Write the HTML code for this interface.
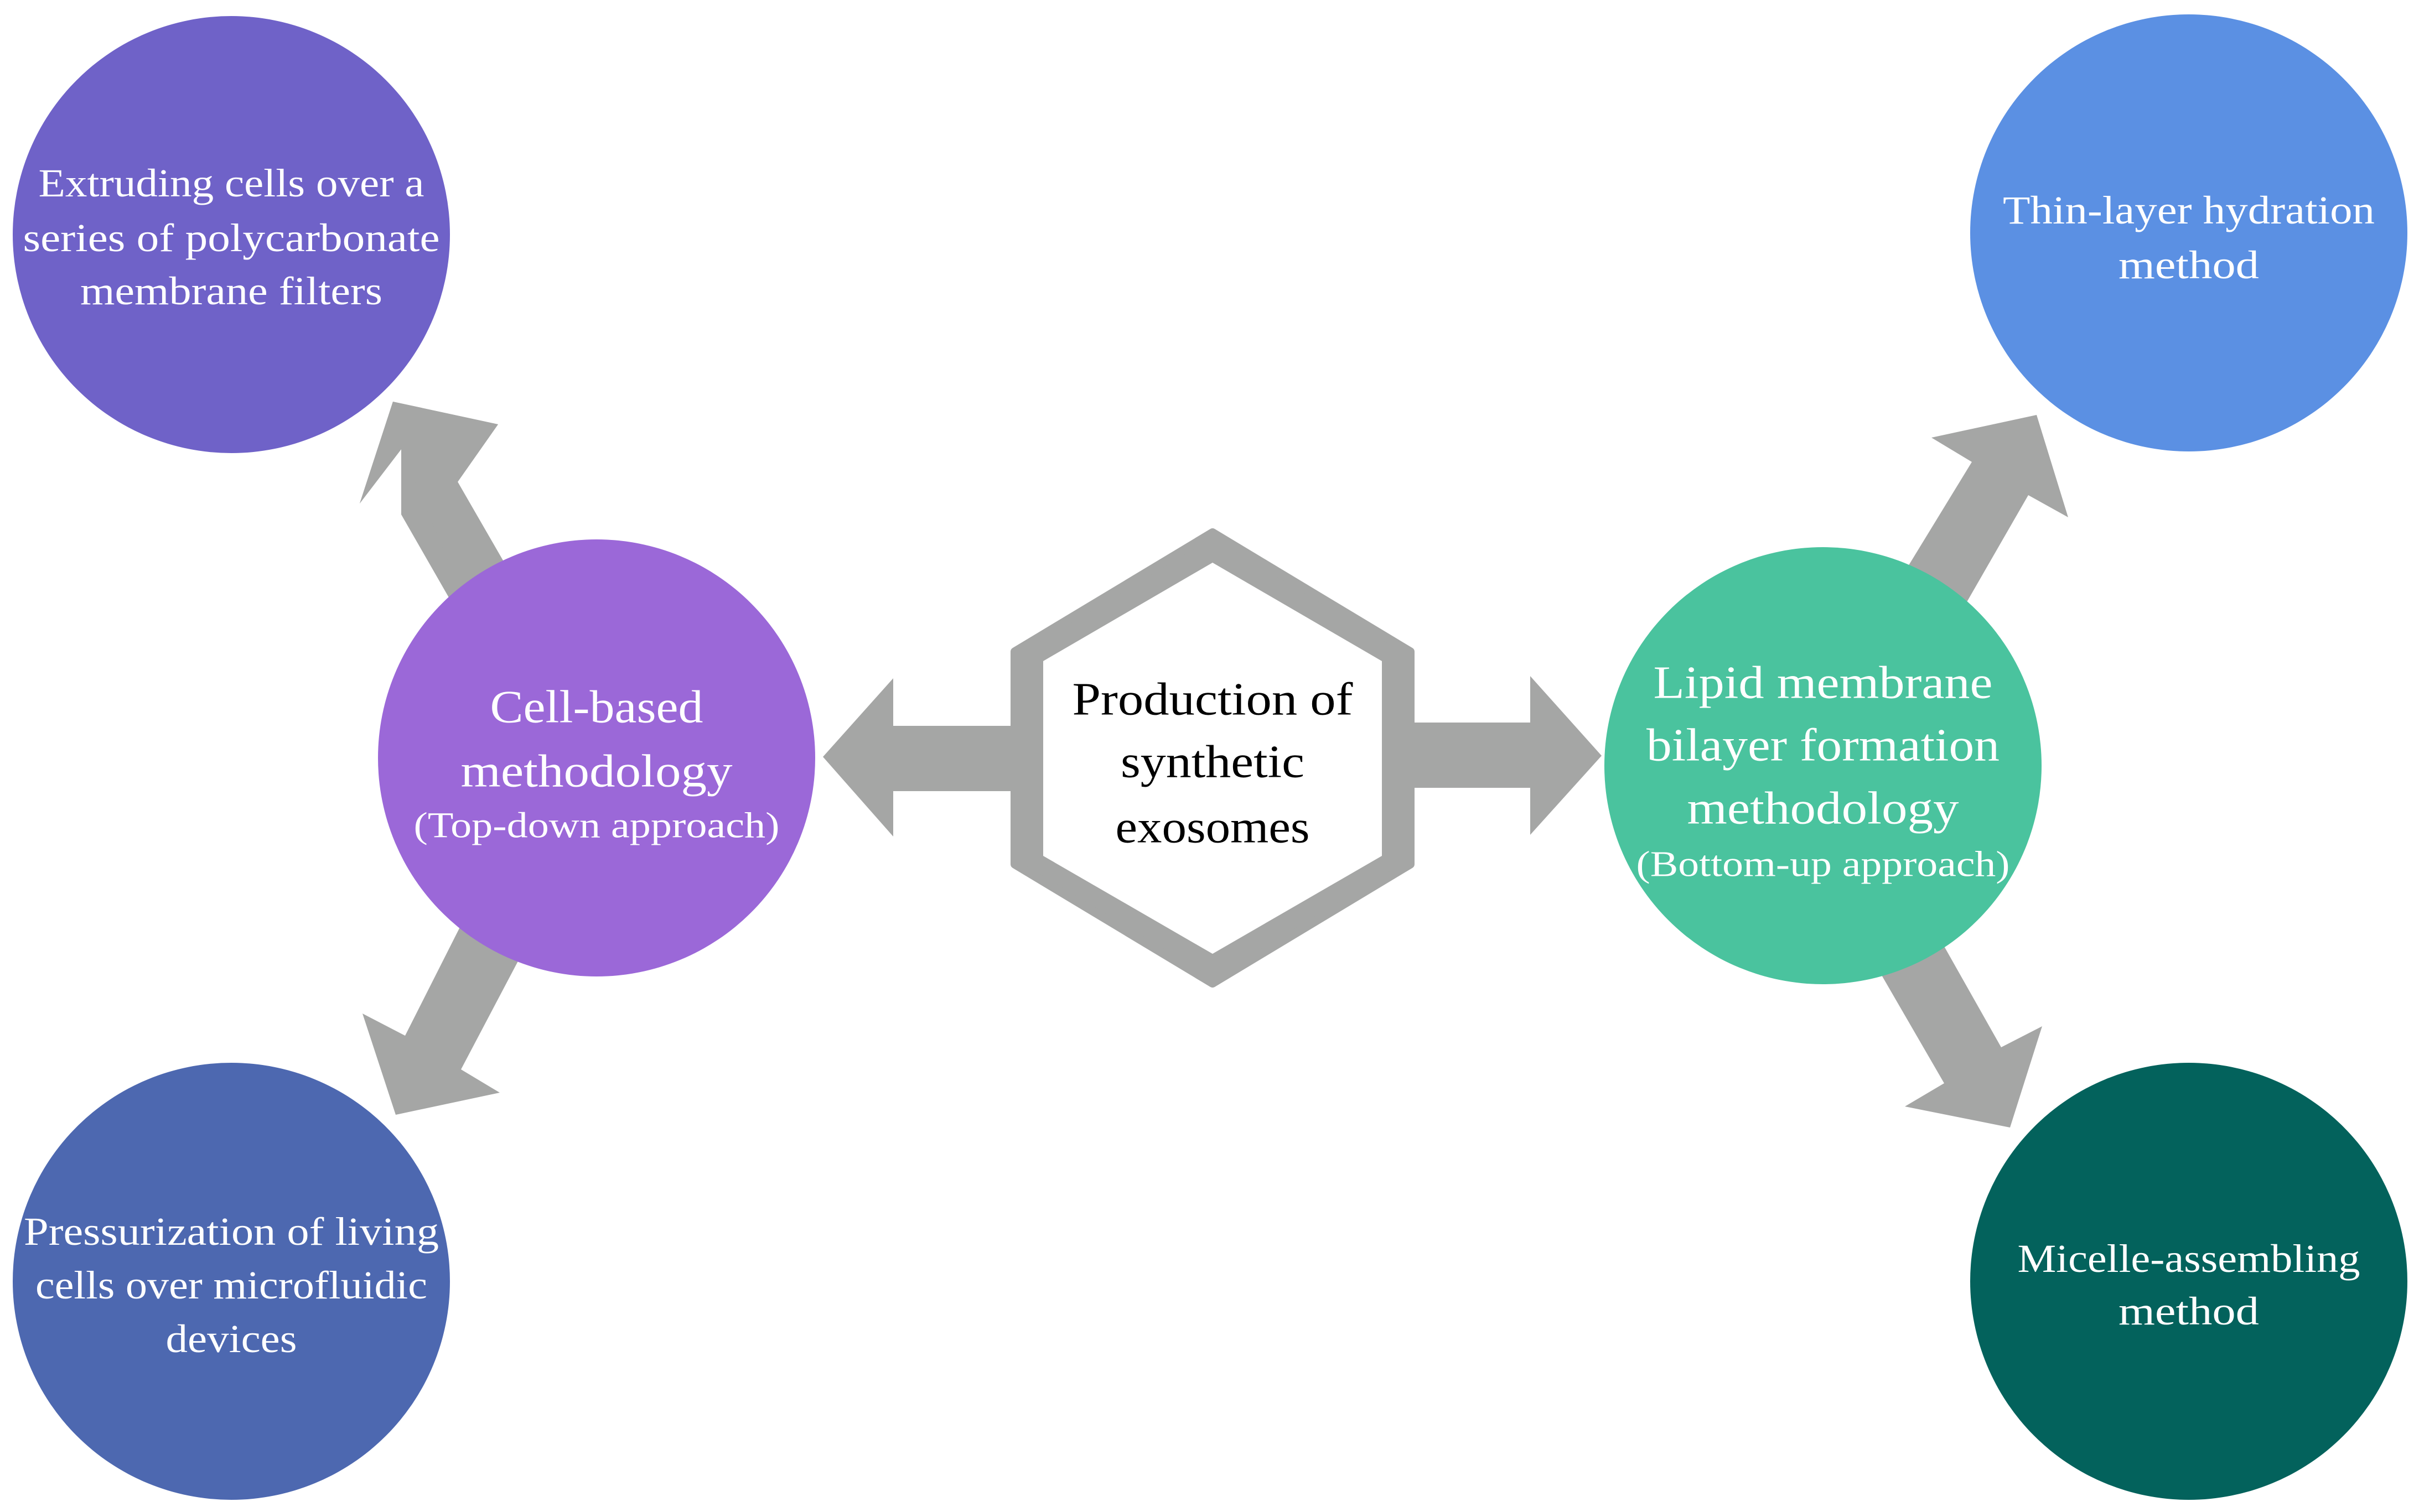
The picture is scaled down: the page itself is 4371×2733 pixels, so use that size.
<!DOCTYPE html>
<html><head><meta charset="utf-8"><style>
html,body{margin:0;padding:0;background:#fff}
svg{display:block}
text{font-family:"Liberation Serif",serif;text-anchor:middle;dominant-baseline:central}
</style></head><body>
<svg width="4371" height="2733" viewBox="0 0 4371 2733" xmlns="http://www.w3.org/2000/svg">
<rect width="4371" height="2733" fill="#fff"/>
<g fill="#a5a6a5">
<!-- horizontal arrows -->
<polygon points="1487,1368 1614,1226 1614,1312 1900,1312 1900,1430 1614,1430 1614,1512"/>
<polygon points="2894,1366 2765,1222 2765,1306 2480,1306 2480,1424 2765,1424 2765,1509"/>
<!-- diagonal arrows -->
<polygon points="710,726 900,767 827,871 1026,1218 924,1277 725,930 725,812 650,910" />
<polygon points="710,726 900,767 827,871 1040,1240 930,1300 725,812 650,910"/>
<polygon points="715,2015 903,1975 833,1933 1040,1540 930,1480 732,1872 655,1832"/>
<polygon points="3680,750 3737,935 3665,895 3455,1260 3340,1200 3563,835 3490,791"/>
<polygon points="3632,2038 3690,1855 3616,1893 3411,1530 3300,1590 3513,1958 3442,2000"/>
</g>
<!-- hexagon -->
<polygon points="2191,963 2548,1178 2548,1562 2191,1777 1834,1562 1834,1178" fill="#a5a6a5" stroke="#a5a6a5" stroke-width="16" stroke-linejoin="round"/>
<polygon points="2191,1017 2497,1195 2497,1547 2191,1724 1885,1547 1885,1195" fill="#fff"/>
<!-- circles -->
<circle cx="418" cy="424" r="395" fill="#6f62c8"/>
<circle cx="418" cy="2316" r="395" fill="#4d68b0"/>
<circle cx="1078" cy="1370" r="395" fill="#9b68d8"/>
<circle cx="3294" cy="1384" r="395" fill="#4ac39e"/>
<circle cx="3955" cy="421" r="395" fill="#5b90e3"/>
<circle cx="3955" cy="2316" r="395" fill="#03625c"/>
<!-- texts -->
<g fill="#fff" font-size="72">
<text x="418" y="331" textLength="697" lengthAdjust="spacingAndGlyphs">Extruding cells over a</text>
<text x="418" y="430" textLength="753" lengthAdjust="spacingAndGlyphs">series of polycarbonate</text>
<text x="418" y="526" textLength="546" lengthAdjust="spacingAndGlyphs">membrane filters</text>
<text x="3955" y="380" textLength="672" lengthAdjust="spacingAndGlyphs">Thin-layer hydration</text>
<text x="3955" y="479" textLength="254" lengthAdjust="spacingAndGlyphs">method</text>
<text x="418" y="2226" textLength="750" lengthAdjust="spacingAndGlyphs">Pressurization of living</text>
<text x="418" y="2323" textLength="708" lengthAdjust="spacingAndGlyphs">cells over microfluidic</text>
<text x="418" y="2420" textLength="237" lengthAdjust="spacingAndGlyphs">devices</text>
<text x="3955" y="2275" textLength="619" lengthAdjust="spacingAndGlyphs">Micelle-assembling</text>
<text x="3955" y="2370" textLength="254" lengthAdjust="spacingAndGlyphs">method</text>
</g>
<g fill="#fff" font-size="84">
<text x="1078" y="1278" textLength="385" lengthAdjust="spacingAndGlyphs">Cell-based</text>
<text x="1078" y="1394" textLength="491" lengthAdjust="spacingAndGlyphs">methodology</text>
<text x="1078" y="1492" font-size="66" textLength="661" lengthAdjust="spacingAndGlyphs">(Top-down approach)</text>
<text x="3294" y="1234" textLength="613" lengthAdjust="spacingAndGlyphs">Lipid membrane</text>
<text x="3294" y="1347" textLength="638" lengthAdjust="spacingAndGlyphs">bilayer formation</text>
<text x="3294" y="1461" textLength="491" lengthAdjust="spacingAndGlyphs">methodology</text>
<text x="3294" y="1562" font-size="66" textLength="675" lengthAdjust="spacingAndGlyphs">(Bottom-up approach)</text>
</g>
<g fill="#000" font-size="84">
<text x="2191" y="1264" textLength="507" lengthAdjust="spacingAndGlyphs">Production of</text>
<text x="2191" y="1377" textLength="332" lengthAdjust="spacingAndGlyphs">synthetic</text>
<text x="2191" y="1495" textLength="351" lengthAdjust="spacingAndGlyphs">exosomes</text>
</g>
</svg>
</body></html>
